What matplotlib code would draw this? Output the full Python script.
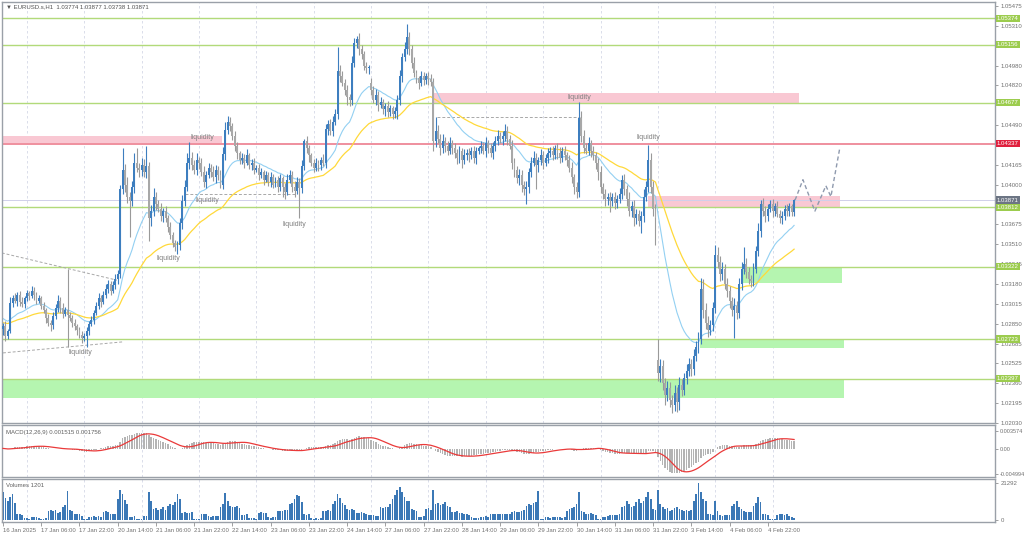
import matplotlib
matplotlib.use("Agg")
import matplotlib.pyplot as plt
import matplotlib.transforms as mtransforms
import numpy as np
import pandas as pd

plt.rcParams['font.family'] = ['Liberation Sans', 'DejaVu Sans']

# EURUSD H1 closes, in pips (10283 -> 1.0283)
closes = [
    10283, 10275, 10279, 10302, 10306, 10304, 10309, 10303, 10301, 10306,
    10310, 10308, 10312, 10309, 10304, 10306, 10300, 10296, 10290, 10286,
    10284, 10291, 10298, 10304, 10298, 10293, 10296, 10292, 10290, 10286,
    10283, 10280, 10276, 10273, 10275, 10279, 10285, 10288, 10294, 10300,
    10306, 10303, 10309, 10314, 10318, 10312, 10317, 10322, 10326, 10396,
    10412, 10400, 10390, 10386, 10398, 10418, 10414, 10412, 10416, 10410,
    10415, 10372, 10378, 10390, 10384, 10380, 10374, 10378, 10372, 10365,
    10358, 10352, 10348, 10350, 10368, 10386, 10398, 10418, 10422, 10416,
    10412, 10420, 10418, 10410, 10402, 10408, 10414, 10410, 10406, 10412,
    10408, 10400, 10425, 10445, 10452, 10448, 10440, 10432, 10426, 10420,
    10422, 10418, 10424, 10416, 10418, 10412, 10414, 10408, 10410, 10404,
    10408, 10402, 10406, 10400, 10404, 10398, 10405, 10398, 10394, 10404,
    10408, 10398, 10395, 10402, 10397, 10415, 10436, 10430, 10424, 10418,
    10414, 10418, 10416, 10420, 10418, 10446, 10450, 10444, 10452, 10458,
    10494, 10490, 10484, 10478, 10472, 10470, 10500, 10517, 10520, 10512,
    10508, 10498, 10496, 10497, 10478, 10470, 10474, 10466, 10468, 10462,
    10465, 10460, 10463, 10458, 10461, 10470, 10490, 10505, 10512, 10522,
    10512, 10500, 10492, 10488, 10484, 10490, 10486, 10490, 10487, 10485,
    10436, 10444, 10438, 10430, 10436, 10432, 10428, 10434, 10430, 10426,
    10422, 10428, 10420, 10424, 10426, 10424, 10428, 10422, 10428, 10430,
    10432, 10428, 10434, 10430, 10426, 10432, 10436, 10440, 10438, 10440,
    10444, 10438, 10432, 10418, 10412, 10405, 10408, 10400, 10396, 10398,
    10410, 10418, 10422, 10416, 10420, 10424, 10418, 10422, 10426, 10428,
    10424, 10430, 10426, 10422, 10428, 10424, 10420, 10414, 10406, 10398,
    10394, 10455, 10440, 10430, 10428, 10434, 10428, 10424, 10418, 10410,
    10398, 10392, 10388, 10390, 10386, 10390, 10385, 10388, 10392, 10404,
    10396, 10388, 10378, 10382, 10372, 10376, 10370, 10374, 10390, 10398,
    10420, 10398, 10380, 10372, 10244, 10250, 10236, 10226, 10232, 10222,
    10218, 10228, 10220, 10234, 10230, 10240, 10246, 10252, 10248, 10258,
    10266, 10272, 10314, 10296, 10286, 10280, 10284, 10298, 10342, 10336,
    10326, 10330, 10318, 10312, 10304, 10296, 10300, 10294, 10318, 10330,
    10334, 10328, 10322, 10320, 10330, 10345, 10362, 10384, 10378, 10374,
    10380, 10384, 10378, 10382, 10376, 10372, 10374, 10380, 10378, 10382,
    10377.4, 10387.1,
]
# wick lengths above / below the body, pips
wick_up = [
    3, 4, 2, 5, 3, 4, 2, 3, 4, 2,   3, 2, 4, 3, 2, 3, 2, 3, 2, 3,
    2, 4, 3, 5, 3, 4, 3, 34, 3, 2,  3, 2, 2, 3, 2, 3, 2, 3, 2, 3,
    4, 3, 3, 4, 3, 2, 3, 4, 3, 4,   18, 5, 6, 4, 5, 8, 12, 4, 6, 5,
    17, 4, 5, 7, 4, 3, 5, 3, 4, 3,  4, 3, 2, 3, 4, 5, 6, 8, 13, 5,
    4, 6, 3, 4, 5, 3, 4, 3, 5, 4,   3, 4, 6, 7, 5, 4, 3, 4, 3, 2,
    4, 3, 5, 2, 3, 4, 2, 3, 4, 2,   3, 2, 4, 3, 2, 3, 4, 2, 3, 5,
    4, 3, 5, 4, 3, 5, 2, 4, 3, 2,   3, 4, 2, 3, 5, 4, 3, 4, 5, 4,
    20, 5, 4, 3, 4, 3, 6, 4, 3, 5,  3, 2, 3, 2, 4, 3, 5, 3, 4, 3,
    2, 4, 3, 2, 3, 4, 5, 4, 6, 11,  4, 3, 5, 3, 2, 4, 3, 2, 3, 4,
    3, 12, 5, 4, 6, 3, 4, 5, 3, 4,  3, 4, 2, 5, 3, 4, 3, 4, 3, 2,
    4, 3, 5, 3, 4, 3, 4, 5, 3, 4,   6, 4, 3, 5, 4, 3, 5, 4, 3, 5,
    4, 5, 6, 4, 3, 5, 4, 3, 4, 3,   4, 3, 4, 5, 3, 4, 3, 4, 5, 3,
    4, 13, 6, 5, 4, 5, 3, 4, 3, 4,  5, 3, 4, 3, 4, 3, 4, 3, 5, 4,
    5, 4, 6, 4, 5, 4, 3, 4, 6, 5,   13, 6, 5, 4, 17, 6, 5, 4, 6, 5,
    4, 6, 5, 7, 5, 4, 6, 5, 4, 6,   5, 6, 9, 8, 6, 5, 4, 5, 8, 6,
    5, 6, 4, 5, 4, 3, 6, 4, 5, 6,   14, 5, 4, 3, 5, 4, 6, 3, 5, 4,
    4, 3, 4, 3, 4, 3, 4, 3, 4, 3,   2, 1,
]
wick_dn = [
    5, 4, 3, 2, 3, 2, 4, 3, 2, 3,   2, 3, 2, 4, 3, 2, 3, 2, 4, 3,
    5, 3, 2, 3, 4, 3, 2, 26, 3, 4,  3, 4, 3, 4, 2, 9, 3, 2, 3, 2,
    3, 4, 2, 3, 4, 3, 2, 3, 4, 3,   4, 6, 5, 29, 4, 5, 4, 6, 5, 4,
    5, 19, 6, 4, 5, 3, 4, 5, 3, 4,  3, 4, 3, 5, 4, 5, 4, 3, 5, 4,
    3, 4, 5, 3, 4, 5, 3, 4, 3, 5,   4, 3, 4, 5, 3, 4, 3, 4, 5, 3,
    3, 4, 2, 3, 4, 3, 2, 4, 3, 4,   2, 3, 4, 3, 2, 4, 3, 8, 6, 3,
    3, 4, 5, 3, 25, 4, 3, 4, 5, 3,  4, 3, 5, 4, 3, 4, 5, 3, 4, 3,
    4, 5, 3, 4, 6, 5, 4, 3, 4, 5,   4, 3, 4, 5, 4, 3, 4, 5, 3, 4,
    5, 4, 3, 4, 3, 7, 4, 5, 3, 4,   5, 4, 3, 4, 5, 3, 4, 3, 5, 4,
    8, 5, 4, 6, 4, 5, 4, 3, 5, 4,   5, 4, 6, 3, 4, 5, 3, 4, 5, 3,
    4, 3, 5, 4, 3, 5, 4, 3, 4, 5,   4, 5, 3, 5, 6, 4, 5, 6, 5, 12,
    5, 4, 3, 20, 6, 4, 5, 3, 4, 3,  4, 3, 5, 4, 3, 4, 5, 4, 5, 6,
    5, 4, 5, 4, 3, 4, 5, 4, 5, 6,   5, 4, 6, 5, 9, 4, 5, 4, 3, 4,
    5, 6, 4, 5, 6, 5, 4, 10, 5, 4,  4, 5, 6, 22, 6, 7, 6, 8, 5, 6,
    7, 5, 8, 6, 5, 4, 5, 4, 6, 5,   4, 5, 4, 6, 5, 6, 4, 5, 4, 5,
    6, 5, 4, 5, 6, 5, 23, 5, 4, 5,  4, 5, 4, 5, 4, 3, 4, 5, 4, 5,
    4, 3, 5, 4, 3, 4, 5, 3, 4, 4,   3, 3,
]
volumes = [
    16000, 12500, 11000, 13000, 14500, 9500, 3400, 3000, 2800, 1200,
    900, 700, 1400, 1300, 1500, 1200, 700, 600, 800, 5200,
    5400, 5000, 5300, 4000, 4200, 7000, 8500, 16500, 5800, 5200,
    3200, 3400, 3000, 2000, 300, 400, 1800, 1700, 1900, 1600,
    2000, 1800, 4400, 4800, 4600, 3200, 3400, 3000, 12000, 17000,
    15000, 11500, 9000, 1800, 1700, 1900, 500, 600, 400, 2200,
    2400, 16000, 11000, 6000, 6500, 5800, 6200, 7000, 5400, 8000,
    9000, 8500, 10000, 15000, 12000, 4000, 4500, 3800, 3600, 4200,
    600, 500, 700, 3200, 3000, 3400, 2000, 1800, 2200, 1900,
    2100, 7000, 9000, 15500, 11000, 8000, 7500, 7200, 7800, 6800,
    2800, 2600, 3000, 900, 800, 1000, 700, 4000, 4500, 3800,
    3600, 1300, 1200, 1400, 1300, 5000, 5200, 4800, 5400, 5600,
    9000, 9500, 12000, 14000, 13500, 10000, 3000, 2800, 3200, 800,
    700, 900, 600, 800, 5000, 5200, 5600, 4800, 9000, 11000,
    15000, 12500, 9500, 8500, 6000, 5800, 6200, 5600, 4000, 3600,
    4200, 3800, 3000, 2500, 2500, 2600, 2400, 2300, 7000, 6800,
    7200, 7500, 9000, 12000, 14000, 17000, 19000, 16000, 13000, 11000,
    10500, 6000, 5500, 5000, 1800, 1600, 1900, 6000, 6500, 5800,
    17000, 9000, 9500, 8500, 9000, 10000, 8000, 7000, 4500, 4200,
    4800, 4000, 4000, 3500, 3000, 2800, 1500, 1000, 900, 1100,
    1800, 1700, 1900, 1800, 3200, 3000, 3400, 3200, 3000, 3300,
    3100, 3500, 3000, 4500, 4800, 4200, 4600, 5000, 5500, 8000,
    9000, 8500, 9500, 10000, 16500, 600, 500, 1300, 1400, 1200,
    1300, 1500, 1400, 1300, 1200, 1500, 5000, 6000, 6500, 7000,
    9000, 16000, 5000, 4500, 3500, 3200, 3800, 3000, 2500, 700,
    500, 1500, 1800, 2200, 2500, 2700, 2600, 2800, 3000, 7000,
    8000, 11000, 9000, 7500, 8000, 10000, 12000, 9500, 11000, 13000,
    16000, 12000, 6000, 5500, 17000, 9000, 7000, 6000, 6500, 5000,
    5500, 6500, 7000, 6000, 5800, 5200, 5600, 5000, 5400, 11000,
    15000, 21292, 16000, 12000, 11000, 3000, 3200, 2800, 11000, 5000,
    2600, 2400, 2800, 2500, 2600, 8000, 9000, 11000, 7500, 6000,
    5000, 4500, 4200, 4600, 8000, 9500, 13000, 10000, 3000, 3200,
    2800, 500, 400, 600, 2800, 3200, 3000, 2600, 3400, 2200,
    1800, 1201,
]
first_open = 10281
gap_opens = {154: 10484, 274: 10255}   # weekend gaps

for name, lst in [("wick_up", wick_up), ("wick_dn", wick_dn), ("volumes", volumes)]:
    if len(lst) != len(closes):
        raise ValueError(f"{name} has {len(lst)} values, closes has {len(closes)}")

# moving average / macd starting values (history before the first bar)
fast_ma_start = 1.0290
slow_ma_start = 1.0286
ema12_start = 1.02905
ema26_start = 1.02890

date_labels = ["16 Jan 2025", "17 Jan 06:00", "17 Jan 22:00", "20 Jan 14:00", "21 Jan 06:00",
               "21 Jan 22:00", "22 Jan 14:00", "23 Jan 06:00", "23 Jan 22:00", "24 Jan 14:00",
               "27 Jan 06:00", "27 Jan 22:00", "28 Jan 14:00", "29 Jan 06:00", "29 Jan 22:00",
               "30 Jan 14:00", "31 Jan 06:00", "31 Jan 22:00", "3 Feb 14:00", "4 Feb 06:00",
               "4 Feb 22:00"]
date_label_bars = [0, 16, 32, 48, 64, 80, 96, 112, 128, 144, 160, 176, 192, 208, 224,
                   240, 256, 272, 288, 304, 320]
day_start_bars = [10, 34, 58, 82, 106, 130, 154, 178, 202, 226, 250, 274, 298, 322]

# right scale (the ones under the coloured level boxes are hidden in the picture)
price_ticks = [1.05475, 1.05310, 1.04980, 1.04820, 1.04490, 1.04165, 1.04000, 1.03675,
               1.03510, 1.03345, 1.03180, 1.03015, 1.02850, 1.02685, 1.02525, 1.02360,
               1.02195, 1.02030]

green_levels = [1.05374, 1.05156, 1.04677, 1.03812, 1.03322, 1.02723, 1.02397]
red_level = 1.04337
last_price = 1.03871

# zones: (first bar, last bar, low, high)
pink_zones = [(-0.5, 91.6, 1.04345, 1.04400),
              (179.5, 333.0, 1.04677, 1.04756),
              (270.0, 350.4, 1.03812, 1.03906)]
green_zones = [(309.0, 351.0, 1.03185, 1.03322),
               (291.6, 352.0, 1.02648, 1.02723),
               (-0.5, 352.0, 1.02235, 1.02397)]

liquidity_bars = [32.2, 69.0, 85.4, 122.0, 83.3, 241.0, 270.0]
liquidity_prices = [1.02610, 1.03385, 1.03870, 1.03670, 1.04385, 1.04720, 1.04390]

# dashed helper lines: (bar0, price0, bar1, price1)
dashed_lines = [(-0.5, 1.03435, 47.7, 1.03210),
                (0.0, 1.02609, 50.0, 1.02700),
                (76.0, 1.03920, 123.0, 1.03920),
                (181.6, 1.04560, 241.5, 1.04560)]

proj_bars = [331.4, 334.7, 339.7, 344.3, 346.4, 350.2]
proj_prices = [1.03871, 1.04040, 1.03780, 1.03990, 1.03900, 1.04310]

macd_text = "MACD(12,26,9) 0.001515 0.001756"
macd_ticks = [0.003574, 0.0, -0.004994]
macd_tick_labels = ["0.003574", "0.00", "-0.004994"]

# ---- build OHLC ----
c = np.array(closes, dtype=float) / 10000
o = np.r_[first_open, closes[:-1]].astype(float) / 10000
for b, v in gap_opens.items():
    o[b] = v / 10000
hi = np.maximum(o, c) + np.array(wick_up) / 10000
lo = np.minimum(o, c) - np.array(wick_dn) / 10000
x = np.arange(len(c))


def ema(values, period, start):
    k = 2 / (period + 1)
    out = []
    prev = start
    for v in values:
        prev = prev + k * (v - prev)
        out.append(prev)
    return np.array(out)


ma_fast = ema(c, 20, fast_ma_start)
ma_slow = ema(c, 50, slow_ma_start)
macd_main = ema(c, 12, ema12_start) - ema(c, 26, ema26_start)
macd_signal = pd.Series(macd_main).rolling(9, min_periods=1).mean().values

# ---- figure ----
W, H = 1024, 537
fig = plt.figure(figsize=(W / 100, H / 100), dpi=100)
fig.patch.set_facecolor("white")

left, right = 2, 995
ax = fig.add_axes([left / W, 1 - 423 / H, (right - left) / W, (423 - 2) / H])
ax_m = fig.add_axes([left / W, 1 - 477 / H, (right - left) / W, (477 - 425) / H])
ax_v = fig.add_axes([left / W, 1 - 522 / H, (right - left) / W, (522 - 479) / H])

xlim = ((left - 3) / 2.39, (right - 3) / 2.39)
grey_txt = "#707070"
bull = "#3d7ebf"
bear = "#a8a8a8"
small = 4.3

for a in (ax, ax_m, ax_v):
    a.set_xlim(*xlim)
    for s in a.spines.values():
        s.set_color("#9aa0a8")
        s.set_linewidth(1.0)
    for d in day_start_bars:
        a.axvline(d, color="#d4d8e6", lw=0.6, ls=(0, (3, 3)), zorder=0)
    a.yaxis.tick_right()
    a.tick_params(axis="y", labelsize=small, pad=1.5, length=2.5, width=0.6,
                  color="#909090", labelcolor=grey_txt)

# ---- main price panel ----
ax.set_ylim(1.02030, 1.05508)
ax.set_xticks([])

for b0, b1, p0, p1 in pink_zones:
    ax.fill_between([b0, b1], p0, p1, color="#f9c8d3", lw=0, zorder=1)
for b0, b1, p0, p1 in green_zones:
    ax.fill_between([b0, b1], p0, p1, color="#b5f5b0", lw=0, zorder=1)
for lvl in green_levels:
    ax.axhline(lvl, color="#b2da7a", lw=1.0, zorder=1.5)
ax.axhline(red_level, color="#ee8796", lw=1.3, zorder=1.5)
ax.axhline(last_price, color="#d0d0ea", lw=0.7, zorder=1.5)

for b0, p0, b1, p1 in dashed_lines:
    ax.plot([b0, b1], [p0, p1], color="#a8a8a8", lw=0.7, ls=(0, (3, 2)), zorder=2)

ax.plot(x, ma_fast, color="#93d0f2", lw=0.8, zorder=2)
ax.plot(x, ma_slow, color="#ffd93a", lw=0.9, zorder=2)

up = c >= o
body = np.where(np.abs(c - o) < 0.00002, 0.00002, c - o)
ax.vlines(x[up], lo[up], hi[up], color=bull, lw=0.8, zorder=3)
ax.vlines(x[~up], lo[~up], hi[~up], color="#9a9a9a", lw=0.8, zorder=3)
ax.bar(x[up], body[up], bottom=o[up], width=0.8, color=bull, lw=0, zorder=4)
ax.bar(x[~up], body[~up], bottom=o[~up], width=0.8, color=bear, lw=0, zorder=4)

ax.plot(proj_bars, proj_prices, color="#8f9aae", lw=1.0, ls=(0, (3, 2)), zorder=5)

for b, p in zip(liquidity_bars, liquidity_prices):
    ax.text(b, p, "liquidity", fontsize=5, color="#808080", ha="center", va="center", zorder=6)

ax.text(0.004, 0.988, "\u25bc EURUSD.s,H1  1.03774 1.03877 1.03738 1.03871",
        transform=ax.transAxes, fontsize=small, color="#505050", va="center", ha="left")

ax.set_yticks(price_ticks)
ax.set_yticklabels([f"{t:.5f}" for t in price_ticks])

trans = mtransforms.blended_transform_factory(ax.transAxes, ax.transData)
box_x = 1 + 2.0 / (right - left)
box_kw = dict(transform=trans, fontsize=small, color="white", va="center", ha="left",
              clip_on=False, zorder=10)
for lvl in green_levels:
    ax.text(box_x, lvl, f"{lvl:.5f}", bbox=dict(boxstyle="square,pad=0.2", fc="#9ccc4e", ec="none"),
            **box_kw)
ax.text(box_x, red_level, f"{red_level:.5f}",
        bbox=dict(boxstyle="square,pad=0.2", fc="#e0203e", ec="none"), **box_kw)
ax.text(box_x, last_price, f"{last_price:.5f}",
        bbox=dict(boxstyle="square,pad=0.2", fc="#6c7584", ec="none"), **box_kw)

# ---- MACD panel ----
ax_m.set_ylim(-0.0055, 0.00465)
ax_m.set_xticks([])
ax_m.bar(x, macd_main, width=0.6, color="#b4b4b4", lw=0, zorder=2)
ax_m.plot(x, macd_signal, color="#ea3a3a", lw=0.9, zorder=3)
ax_m.set_yticks(macd_ticks)
ax_m.set_yticklabels(macd_tick_labels)
ax_m.tick_params(axis="y", labelsize=4.0, pad=1.0)
ax_m.text(0.004, 0.85, macd_text, transform=ax_m.transAxes, fontsize=small, color="#606060",
          va="center", ha="left")

# ---- Volumes panel ----
ax_v.set_ylim(-1300, 23300)
ax_v.bar(x, volumes, width=0.72, color="#3b78b6", lw=0, zorder=2)
ax_v.set_yticks([21292, 0])
ax_v.set_yticklabels(["21292", "0"])
ax_v.text(0.004, 0.86, f"Volumes {volumes[-1]}", transform=ax_v.transAxes, fontsize=small,
          color="#606060", va="center", ha="left")
ax_v.set_xticks(date_label_bars)
ax_v.set_xticklabels(date_labels)
ax_v.tick_params(axis="x", labelsize=small, pad=1.5, length=3, width=0.6, color="#909090",
                 labelcolor=grey_txt)
for lab in ax_v.get_xticklabels():
    lab.set_ha("left")

fig.savefig("out.png", dpi=100)
